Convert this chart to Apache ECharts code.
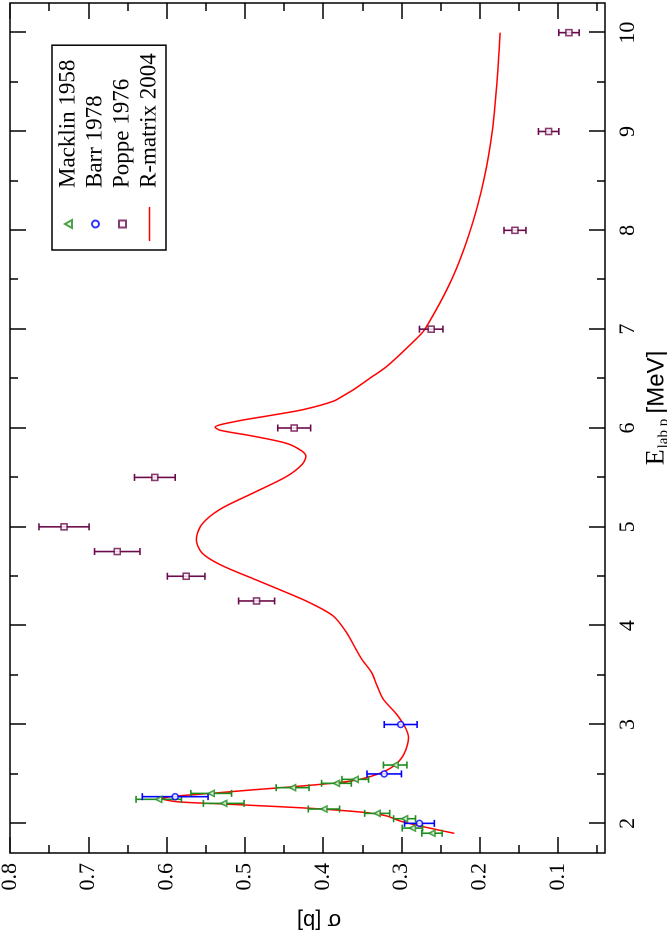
<!DOCTYPE html>
<html>
<head>
<meta charset="utf-8">
<script src="https://cdn.jsdelivr.net/npm/echarts@6/dist/echarts.min.js"></script>
<style>
  html, body { margin: 0; padding: 0; background: #fff; overflow: hidden; }
  body { width: 667px; height: 942px; position: relative; }
  /* chart is drawn landscape and turned a quarter turn to the left */
  #main {
    position: absolute; left: 0; top: 942px;
    width: 942px; height: 667px;
    transform-origin: 0 0;
    transform: rotate(-90deg);
  }
</style>
</head>
<body>
<div id="main"></div>
<script>
// Macklin 1958
var macklinE   = [1.900, 1.952, 2.047, 2.101, 2.145, 2.202, 2.243, 2.303, 2.361, 2.405, 2.445, 2.590];
var macklinSig = [0.261, 0.286, 0.296, 0.331, 0.399, 0.527, 0.610, 0.543, 0.439, 0.383, 0.359, 0.308];
var macklinErr = [0.013, 0.013, 0.014, 0.016, 0.020, 0.026, 0.029, 0.026, 0.021, 0.019, 0.017, 0.015];

// Barr 1978
var barrE   = [2.00, 2.27, 2.50, 3.00];
var barrSig = [0.277, 0.589, 0.322, 0.301];
var barrErr = [0.019, 0.042, 0.022, 0.021];

// Poppe 1976
var poppeE   = [4.25, 4.50, 4.75, 5.00, 5.50, 6.00, 7.00, 8.00, 9.00, 10.00];
var poppeSig = [0.485, 0.575, 0.663, 0.731, 0.615, 0.437, 0.262, 0.155, 0.112, 0.086];
var poppeErr = [0.023, 0.024, 0.029, 0.032, 0.026, 0.021, 0.015, 0.014, 0.013, 0.013];

// R-matrix 2004
var rmatE = [1.899, 1.973, 2.023, 2.074, 2.108, 2.148, 2.175, 2.199, 2.219, 2.250, 2.276, 2.303,
             2.337, 2.377, 2.428, 2.496, 2.580, 2.698, 2.867, 2.968, 3.102, 3.254, 3.389, 3.524,
             3.659, 3.760, 3.929, 4.097, 4.232, 4.333, 4.474, 4.619, 4.738, 4.872, 5.024, 5.176,
             5.344, 5.513, 5.631, 5.715, 5.766, 5.843, 5.917, 5.978, 6.008, 6.069, 6.126, 6.187,
             6.271, 6.330, 6.389, 6.500, 6.625, 6.895, 7.000, 7.500, 8.000, 8.500, 9.000, 9.500, 10.000];
var rmatSig = [0.2325, 0.276, 0.3015, 0.3185, 0.344, 0.408, 0.472, 0.536, 0.587, 0.606, 0.587, 0.544,
               0.493, 0.429, 0.365, 0.331, 0.310, 0.297, 0.291, 0.295, 0.306, 0.323, 0.331, 0.338,
               0.3505, 0.358, 0.370, 0.387, 0.417, 0.446, 0.489, 0.532, 0.555, 0.562, 0.555, 0.532,
               0.489, 0.446, 0.427, 0.422, 0.427, 0.446, 0.489, 0.532, 0.538, 0.510, 0.468, 0.425,
               0.387, 0.3735, 0.361, 0.341, 0.3185, 0.282, 0.270, 0.236, 0.212, 0.195, 0.184, 0.178, 0.174];

// tick labels
var eMajor = [2, 3, 4, 5, 6, 7, 8, 9, 10];
var eMinor = [2.5, 3.5, 4.5, 5.5, 6.5, 7.5, 8.5, 9.5];
var sigMajor = [0.1, 0.2, 0.3, 0.4, 0.5, 0.6, 0.7, 0.8];
var sigMinor = [0.05, 0.15, 0.25, 0.35, 0.45, 0.55, 0.65, 0.75];

(function () {
  var myChart = echarts.init(document.getElementById('main'), null, { devicePixelRatio: 2 });

  var serif = 'Liberation Serif';
  var sans = 'Liberation Sans';
  var green = '#1c8c1c', blue = '#0000ff', maroon = '#6a0a4a', red = '#ff0000';

  function pts(xs, ys) {
    return xs.map(function (x, i) { return [x, ys[i]]; });
  }
  function bars(xs, ys, es) {
    return xs.map(function (x, i) { return [x, ys[i] - es[i], ys[i] + es[i]]; });
  }
  // horizontal error bars in the picture = vertical ones here
  function errSeries(name, data, color) {
    return {
      name: name,
      type: 'custom',
      xAxisIndex: 0, yAxisIndex: 0,
      encode: { x: 0, y: [1, 2] },
      z: 3,
      silent: true,
      renderItem: function (params, api) {
        var lo = api.coord([api.value(0), api.value(1)]);
        var hi = api.coord([api.value(0), api.value(2)]);
        var w = 3.5;
        var st = { stroke: color, lineWidth: 1.6 };
        return {
          type: 'group',
          children: [
            { type: 'line', shape: { x1: lo[0], y1: lo[1], x2: hi[0], y2: hi[1] }, style: st },
            { type: 'line', shape: { x1: lo[0] - w, y1: lo[1], x2: lo[0] + w, y2: lo[1] }, style: st },
            { type: 'line', shape: { x1: hi[0] - w, y1: hi[1], x2: hi[0] + w, y2: hi[1] }, style: st }
          ]
        };
      },
      data: data
    };
  }

  // fixed plot box, no automatic shrinking for labels
  var gridBox = { left: 89, right: 3, top: 10, bottom: 62, outerBoundsMode: 'none', containLabel: false };
  function tickAxis(pos, gridIndex, vals, len) {
    return {
      type: 'value', gridIndex: gridIndex, position: pos,
      min: pos === 'bottom' || pos === 'top' ? 1.7 : 0.04,
      max: pos === 'bottom' || pos === 'top' ? 10.3 : 0.8,
      axisLine: { show: false },
      splitLine: { show: false },
      axisLabel: { show: false },
      axisTick: { show: true, inside: true, length: len, customValues: vals, lineStyle: { color: '#000', width: 1.5 } }
    };
  }

  var xMain = tickAxis('bottom', 0, eMajor, 16);
  xMain.axisLabel = {
    show: true, customValues: eMajor, margin: 12,
    fontFamily: serif, fontSize: 22, color: '#000'
  };
  xMain.name = '{e|E}{s|lab p} {m|[MeV]}';
  xMain.nameLocation = 'middle';
  xMain.nameGap = 31;
  xMain.nameTextStyle = {
    padding: [0, 0, 0, 40],
    rich: {
      e: { fontFamily: serif, fontSize: 26, color: '#000' },
      s: { fontFamily: serif, fontSize: 15, color: '#000', padding: [13, 2, 0, 1] },
      m: { fontFamily: sans, fontSize: 24, color: '#000' }
    }
  };

  var yMain = tickAxis('left', 0, sigMajor, 16);
  yMain.axisLabel = {
    show: true, customValues: sigMajor, margin: 10,
    fontFamily: serif, fontSize: 22, color: '#000',
    formatter: function (v) { return v.toFixed(1); }
  };
  yMain.name = 'σ [b]';
  yMain.nameLocation = 'middle';
  yMain.nameGap = 56;
  yMain.nameTextStyle = { fontFamily: sans, fontSize: 22, color: '#000', padding: [0, 23, 0, 0] };

  var option = {
    backgroundColor: '#fff',
    animation: false,
    grid: [
      Object.assign({ show: true, borderColor: '#000', borderWidth: 1.5, backgroundColor: 'transparent' }, gridBox),
      Object.assign({ show: false }, gridBox)
    ],
    xAxis: [
      xMain,
      tickAxis('top', 0, eMajor, 16),
      tickAxis('bottom', 1, eMinor, 8),
      tickAxis('top', 1, eMinor, 8)
    ],
    yAxis: [
      yMain,
      tickAxis('right', 0, sigMajor, 16),
      tickAxis('left', 1, sigMinor, 8),
      tickAxis('right', 1, sigMinor, 8)
    ],
    legend: {
      orient: 'vertical',
      left: 692, top: 52,
      padding: [5, 8, 5, 9],
      itemGap: 4,
      itemWidth: 34,
      itemHeight: 7,
      symbolKeepAspect: true,
      borderColor: '#000',
      borderWidth: 1.5,
      backgroundColor: '#fff',
      textStyle: { fontFamily: serif, fontSize: 23, color: '#000', padding: [0, 0, 0, 14] },
      data: [
        { name: 'Macklin 1958', icon: 'path://M4,0 L8,7 L0,7 Z' },
        { name: 'Barr 1978', icon: 'circle' },
        { name: 'Poppe 1976', icon: 'path://M0,0 L6,0 L6,6 L0,6 Z' },
        { name: 'R-matrix 2004', icon: 'path://M0,0 L34,0 L34,1.5 L0,1.5 Z' }
      ]
    },
    series: [
      {
        name: 'R-matrix 2004',
        type: 'line',
        xAxisIndex: 0, yAxisIndex: 0,
        showSymbol: false, symbol: 'none',
        smooth: 0.3,
        lineStyle: { color: red, width: 1.5 },
        itemStyle: { color: red },
        z: 2,
        data: pts(rmatE, rmatSig)
      },
      errSeries('errMacklin', bars(macklinE, macklinSig, macklinErr), green),
      errSeries('errBarr', bars(barrE, barrSig, barrErr), blue),
      errSeries('errPoppe', bars(poppeE, poppeSig, poppeErr), maroon),
      {
        name: 'Macklin 1958',
        type: 'scatter',
        symbol: 'triangle', symbolSize: 6,
        itemStyle: { color: '#fff', borderColor: green, borderWidth: 1.6 },
        z: 4,
        data: pts(macklinE, macklinSig)
      },
      {
        name: 'Barr 1978',
        type: 'scatter',
        symbol: 'circle', symbolSize: 6,
        itemStyle: { color: '#fff', borderColor: blue, borderWidth: 1.6 },
        z: 4,
        data: pts(barrE, barrSig)
      },
      {
        name: 'Poppe 1976',
        type: 'scatter',
        symbol: 'rect', symbolSize: 6,
        itemStyle: { color: '#fff', borderColor: maroon, borderWidth: 1.6 },
        z: 4,
        data: pts(poppeE, poppeSig)
      }
    ]
  };

  myChart.setOption(option);
  window.addEventListener('resize', function () {
    myChart.resize();
  });
})();
</script>
</body>
</html>
